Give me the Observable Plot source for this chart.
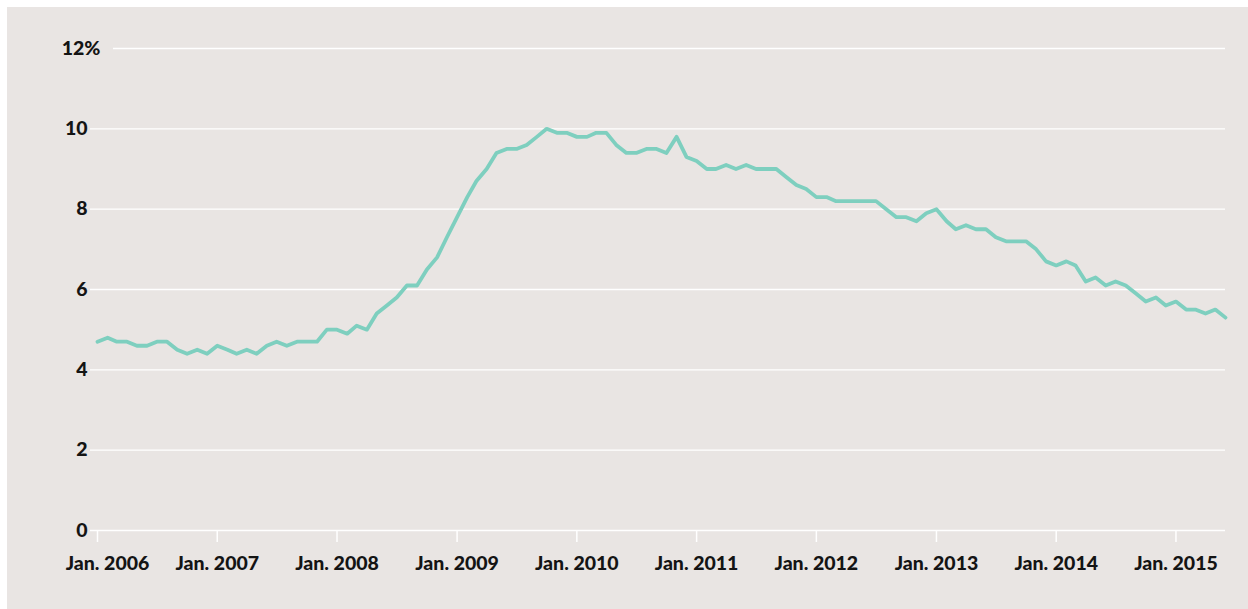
<!DOCTYPE html>
<html><head><meta charset="utf-8">
<script src="https://cdn.jsdelivr.net/npm/d3@7"></script>
<script src="https://cdn.jsdelivr.net/npm/@observablehq/plot@0.6"></script>
<style>
html,body{margin:0;padding:0;background:#fff;}
#chart{position:absolute;left:7px;top:7px;width:1241px;height:602px;background:#e9e5e3;overflow:hidden;}
#chart svg{display:block;}
</style></head><body><div id="chart"></div>
<script>
// Monthly values (percent), Jan..Dec of each year
const y2006 = [4.7, 4.8, 4.7, 4.7, 4.6, 4.6, 4.7, 4.7, 4.5, 4.4, 4.5, 4.4];
const y2007 = [4.6, 4.5, 4.4, 4.5, 4.4, 4.6, 4.7, 4.6, 4.7, 4.7, 4.7, 5.0];
const y2008 = [5.0, 4.9, 5.1, 5.0, 5.4, 5.6, 5.8, 6.1, 6.1, 6.5, 6.8, 7.3];
const y2009 = [7.8, 8.3, 8.7, 9.0, 9.4, 9.5, 9.5, 9.6, 9.8, 10.0, 9.9, 9.9];
const y2010 = [9.8, 9.8, 9.9, 9.9, 9.6, 9.4, 9.4, 9.5, 9.5, 9.4, 9.8, 9.3];
const y2011 = [9.2, 9.0, 9.0, 9.1, 9.0, 9.1, 9.0, 9.0, 9.0, 8.8, 8.6, 8.5];
const y2012 = [8.3, 8.3, 8.2, 8.2, 8.2, 8.2, 8.2, 8.0, 7.8, 7.8, 7.7, 7.9];
const y2013 = [8.0, 7.7, 7.5, 7.6, 7.5, 7.5, 7.3, 7.2, 7.2, 7.2, 7.0, 6.7];
const y2014 = [6.6, 6.7, 6.6, 6.2, 6.3, 6.1, 6.2, 6.1, 5.9, 5.7, 5.8, 5.6];
const y2015 = [5.7, 5.5, 5.5, 5.4, 5.5, 5.3];

const years = [2006, 2007, 2008, 2009, 2010, 2011, 2012, 2013, 2014, 2015];
const series = [y2006, y2007, y2008, y2009, y2010, y2011, y2012, y2013, y2014, y2015];

const yTicks = [0, 2, 4, 6, 8, 10];
const yTopTick = 12;
const yTopSuffix = "%";
const xTickYears = [2006, 2007, 2008, 2009, 2010, 2011, 2012, 2013, 2014, 2015];
const xTickPrefix = "Jan. ";

const data = years.flatMap((yr, k) => series[k].map((v, i) => ({date: new Date(Date.UTC(yr, i, 1)), value: v})));
const xTicks = xTickYears.map(y => new Date(Date.UTC(y, 0, 1)));
const fmtX = d => xTickPrefix + d.getUTCFullYear();

const textColor = "#141414";
const chart = Plot.plot({
  width: 1241, height: 602,
  marginLeft: 83, marginRight: 23, marginTop: 41, marginBottom: 79,
  style: {background: "transparent", fontFamily: "Lato, sans-serif", fontSize: "19.5px", fontWeight: "900", color: textColor},
  x: {type: "utc", domain: [data[0].date, data[data.length - 1].date], insetLeft: 7},
  y: {domain: [0, 12]},
  marks: [
    Plot.gridY(yTicks, {stroke: "#fff", strokeOpacity: 1, strokeWidth: 1.3}),
    Plot.ruleY([yTopTick], {stroke: "#fff", strokeOpacity: 1, strokeWidth: 1.3, insetLeft: 23}),
    Plot.axisY(yTicks, {tickSize: 0, tickPadding: 3, label: null, fill: textColor}),
    Plot.axisY([yTopTick], {tickSize: 0, tickPadding: 3, label: null, fill: textColor, dx: 13, tickFormat: d => d + yTopSuffix}),
    // tick marks for every January
    Plot.axisX(xTicks, {tickSize: 12, tickPadding: 14, stroke: "#fff", strokeOpacity: 1, strokeWidth: 1.5, label: null, tickFormat: () => ""}),
    // labels (first one nudged right, as in the original)
    Plot.axisX(xTicks.slice(1), {tickSize: 0, tickPadding: 26, fill: textColor, label: null, tickFormat: fmtX}),
    Plot.axisX(xTicks.slice(0, 1), {tickSize: 0, tickPadding: 26, dx: 10, fill: textColor, label: null, tickFormat: fmtX}),
    Plot.lineY(data, {x: "date", y: "value", stroke: "#7ecfbf", strokeWidth: 3.8})
  ]
});
document.getElementById("chart").appendChild(chart);
</script></body></html>
